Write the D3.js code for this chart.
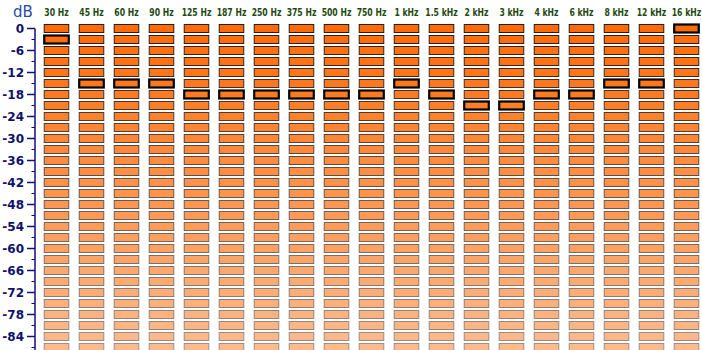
<!DOCTYPE html>
<html><head><meta charset="utf-8">
<script src="https://cdn.jsdelivr.net/npm/d3@7"></script>
<style>html,body{margin:0;padding:0;background:#fff;}svg{display:block;}</style>
</head><body>
<svg id="chart" width="702" height="350"></svg>
<script>
const freqs = ["30 Hz","45 Hz","60 Hz","90 Hz","125 Hz","187 Hz","250 Hz","375 Hz","500 Hz","750 Hz","1 kHz","1.5 kHz","2 kHz","3 kHz","4 kHz","6 kHz","8 kHz","12 kHz","16 kHz"];
const settings = [-3,-15,-15,-15,-18,-18,-18,-18,-18,-18,-15,-18,-21,-21,-18,-18,-15,-15,0];
const levels = [0,-3,-6,-9,-12,-15,-18,-21,-24,-27,-30,-33,-36,-39,-42,-45,-48,-51,-54,-57,-60,-63,-66,-69,-72,-75,-78,-81,-84,-87];
const tickLabels = [0,-6,-12,-18,-24,-30,-36,-42,-48,-54,-60,-66,-72,-78,-84];
const minorTicks = [-3,-9,-15,-21,-27,-33,-39,-45,-51,-57,-63,-69,-75,-81,-87];

const svg = d3.select("#chart");
const x = d3.scaleBand().domain(freqs).range([39, 704]).paddingInner(0.27).paddingOuter(0.135);
const y = d3.scaleLinear().domain([0, -84]).range([28.5, 336.5]);
const op = d3.scaleLinear().domain([0, -87]).range([0.97, 0.45]);
const fillC = d => d3.interpolateRgb("#ffffff", "#ff6600")(op(d));
const strokeC = d => d3.interpolateRgb("#ffffff", "#2a1a10")(op(d) + 0.03);
const cellH = 8;

// axis
const axisG = svg.append("g").attr("transform", "translate(35,0)");
axisG.append("line").attr("x1", 0).attr("x2", 0).attr("y1", y(0)).attr("y2", 350)
  .attr("stroke", "#10107a").attr("stroke-width", 1.5);
axisG.selectAll("line.maj").data(tickLabels).join("line").attr("class","maj")
  .attr("x1", -8).attr("x2", 0).attr("y1", d => y(d)).attr("y2", d => y(d))
  .attr("stroke", "#10107a").attr("stroke-width", 1.5);
axisG.selectAll("line.min").data(minorTicks).join("line").attr("class","min")
  .attr("x1", -3.5).attr("x2", 0).attr("y1", d => y(d)).attr("y2", d => y(d))
  .attr("stroke", "#10107a").attr("stroke-width", 1);
axisG.selectAll("text").data(tickLabels).join("text")
  .attr("x", -11).attr("y", d => y(d)).attr("dy", "0.36em")
  .attr("text-anchor", "end")
  .attr("font-family", "DejaVu Sans, sans-serif").attr("font-weight", "bold").attr("font-size", 12)
  .attr("fill", "#10106e").text(d => d);

svg.append("text").attr("x", 13).attr("y", 17).text("dB")
  .attr("font-family", "DejaVu Sans, sans-serif").attr("font-size", 15).attr("fill", "#2a4aa0");

// header labels
svg.selectAll("text.freq").data(freqs).join("text").attr("class","freq")
  .attr("transform", d => `translate(${x(d) + x.bandwidth()/2},16) scale(0.78,1)`)
  .attr("text-anchor", "middle")
  .attr("font-family", "DejaVu Sans Condensed, DejaVu Sans, sans-serif").attr("font-weight", "bold")
  .attr("font-size", 11).attr("fill", "#1e4a12")
  .text(d => d);

// cells
const cells = [];
freqs.forEach((f, i) => levels.forEach(l => cells.push({f, l, sel: settings[i] === l})));
svg.append("g").selectAll("rect").data(cells).join("rect")
  .attr("x", d => x(d.f) + 0.5).attr("y", d => y(d.l) - cellH/2)
  .attr("width", x.bandwidth() - 1).attr("height", cellH)
  .attr("fill", d => fillC(d.l))
  .attr("stroke", d => d.sel ? "#000" : strokeC(d.l))
  .attr("stroke-width", d => d.sel ? 2.2 : 1);
</script>
</body></html>
